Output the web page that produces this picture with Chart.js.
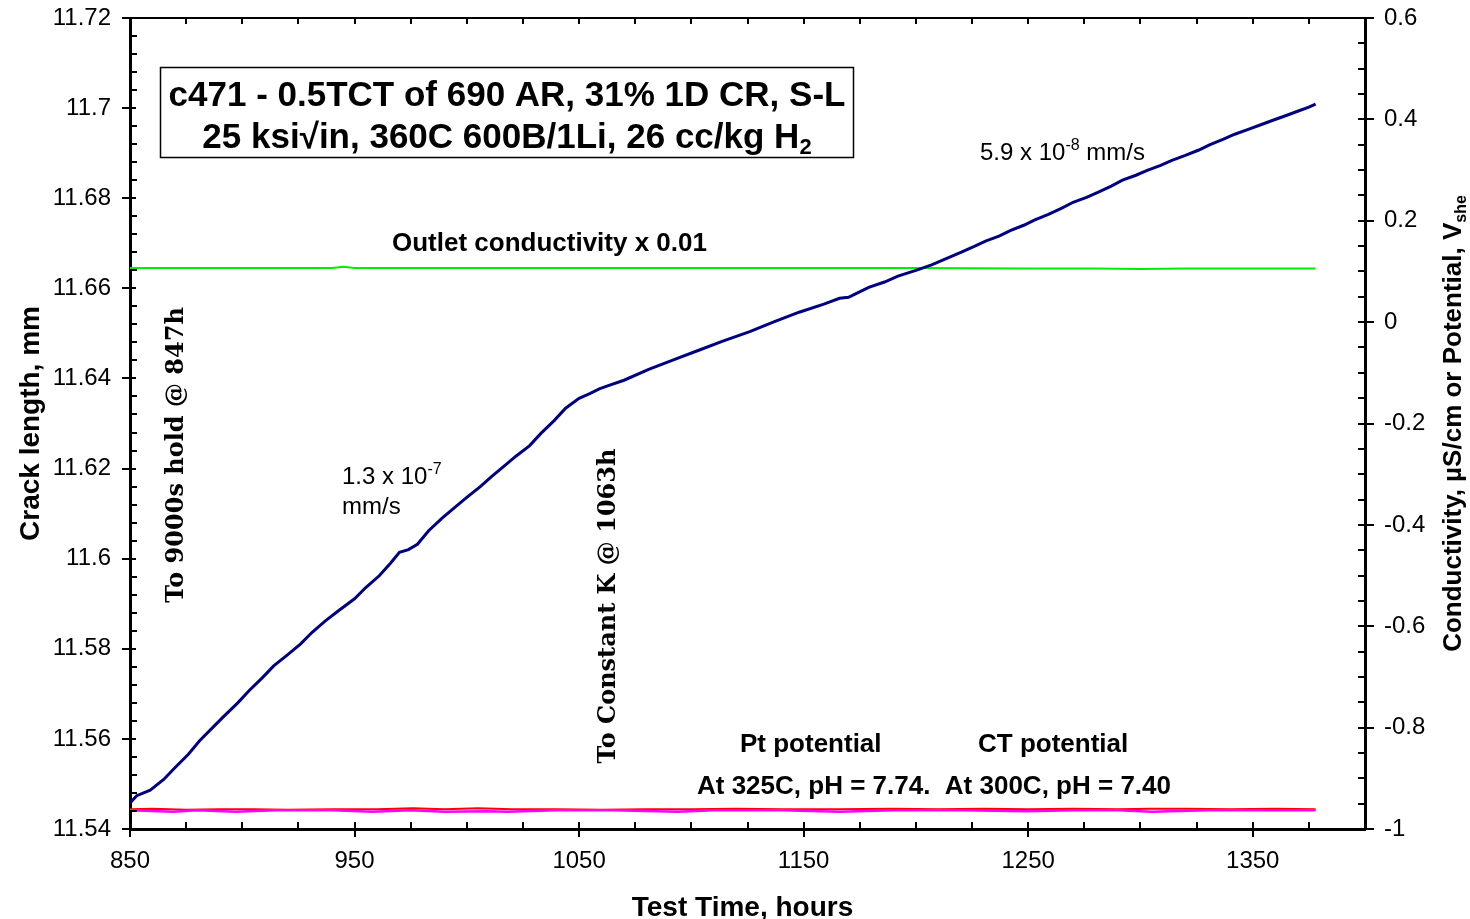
<!DOCTYPE html>
<html>
<head>
<meta charset="utf-8">
<script src="https://cdn.jsdelivr.net/npm/chart.js@4.4.1/dist/chart.umd.min.js"></script>
<style>
  html, body { margin: 0; padding: 0; background: #fff; }
  #wrap { width: 1470px; height: 919px; }
</style>
</head>
<body>
<div id="wrap"><canvas id="crackChart" width="1470" height="919"></canvas></div>
<script>
// crack length, mm (left axis)
const crackHours = [850, 853, 859, 865, 870, 876, 881, 887, 892, 898, 903, 909, 914, 920, 926, 931, 937, 943, 950, 955,
  961, 966, 970, 974, 978, 983, 989, 994, 1000, 1006, 1011, 1017, 1022, 1028, 1033, 1039, 1044, 1050, 1055, 1059,
  1063, 1070, 1081, 1092, 1103, 1114, 1126, 1137, 1148, 1159, 1166, 1170, 1174, 1179, 1186, 1192, 1200, 1207, 1214, 1220,
  1226, 1231, 1237, 1242, 1248, 1253, 1259, 1265, 1270, 1276, 1281, 1287, 1292, 1298, 1303, 1309, 1314, 1320, 1326, 1331,
  1337, 1342, 1348, 1353, 1359, 1364, 1370, 1375, 1378];
const crackLength = [11.5458, 11.5474, 11.5486, 11.5510, 11.5536, 11.5566, 11.5596, 11.5626, 11.5651, 11.5680,
  11.5707, 11.5736, 11.5762, 11.5786, 11.5811, 11.5836, 11.5862, 11.5885, 11.5911, 11.5936,
  11.5962, 11.5990, 11.6014, 11.6020, 11.6032, 11.6062, 11.6090, 11.6111, 11.6136, 11.6160,
  11.6182, 11.6207, 11.6228, 11.6251, 11.6278, 11.6307, 11.6334, 11.6356, 11.6367, 11.6377,
  11.6384, 11.6396, 11.6420, 11.6441, 11.6462, 11.6483, 11.6504, 11.6526, 11.6547, 11.6565,
  11.6578, 11.6580, 11.6590, 11.6602, 11.6614, 11.6627, 11.6640, 11.6652, 11.6667, 11.6680,
  11.6693, 11.6705, 11.6716, 11.6728, 11.6740, 11.6752, 11.6764, 11.6778, 11.6791, 11.6802,
  11.6813, 11.6827, 11.6840, 11.6851, 11.6862, 11.6873, 11.6884, 11.6895, 11.6907, 11.6919,
  11.6931, 11.6942, 11.6953, 11.6962, 11.6973, 11.6982, 11.6993, 11.7002, 11.7009];

// outlet conductivity x 0.01 (right axis)
const condHours = [850, 900, 940, 945, 950, 1000, 1050, 1100, 1150, 1200, 1250, 1280, 1300, 1320, 1350, 1378];
const condValues = [0.107, 0.107, 0.107, 0.109, 0.107, 0.107, 0.107, 0.107, 0.107, 0.107, 0.106, 0.106, 0.105, 0.106, 0.106, 0.106];

// Pt potential, V she (right axis)
const ptHours = [850, 860, 875, 890, 905, 920, 940, 960, 976, 990, 1005, 1020, 1040, 1060, 1080,
  1100, 1120, 1140, 1165, 1190, 1210, 1230, 1250, 1270, 1290, 1305, 1320, 1340, 1360, 1378];
const ptValues = [-0.961, -0.960, -0.962, -0.961, -0.961, -0.962, -0.961, -0.961, -0.959, -0.961, -0.959, -0.961, -0.961, -0.962, -0.961,
  -0.961, -0.960, -0.961, -0.961, -0.960, -0.961, -0.960, -0.961, -0.960, -0.961, -0.960, -0.960, -0.961, -0.960, -0.961];

// CT potential, V she (right axis)
const ctHours = [850, 869, 880, 897, 915, 940, 958, 975, 990, 1009, 1018, 1040, 1065, 1094, 1110,
  1140, 1166, 1190, 1220, 1249, 1270, 1290, 1305, 1330, 1350, 1378];
const ctValues = [-0.963, -0.966, -0.963, -0.966, -0.963, -0.963, -0.966, -0.963, -0.966, -0.965, -0.966, -0.963, -0.963, -0.966, -0.963,
  -0.963, -0.966, -0.963, -0.963, -0.965, -0.963, -0.963, -0.966, -0.963, -0.963, -0.963];

const xTicks = [850, 950, 1050, 1150, 1250, 1350];
const leftTicks = [11.54, 11.56, 11.58, 11.6, 11.62, 11.64, 11.66, 11.68, 11.7, 11.72];
const leftTickLabels = ['11.54', '11.56', '11.58', '11.6', '11.62', '11.64', '11.66', '11.68', '11.7', '11.72'];
const rightTicks = [-1, -0.8, -0.6, -0.4, -0.2, 0, 0.2, 0.4, 0.6];
const rightTickLabels = ['-1', '-0.8', '-0.6', '-0.4', '-0.2', '0', '0.2', '0.4', '0.6'];

const SANS = '"Liberation Sans", Arial, sans-serif';
const SERIF = '"DejaVu Serif", serif';

const toPoints = (xs, ys) => xs.map((x, i) => ({ x: x, y: ys[i] }));

// draws a run of text pieces (for sub/superscripts), aligned as a whole
function drawRuns(ctx, runs, x, y, align) {
  let total = 0;
  runs.forEach(r => { ctx.font = r.font; total += ctx.measureText(r.text).width; });
  let cx = align === 'center' ? x - total / 2 : x;
  ctx.textAlign = 'left';
  runs.forEach(r => {
    ctx.font = r.font;
    ctx.fillText(r.text, cx, y + (r.dy || 0));
    cx += ctx.measureText(r.text).width;
  });
}

const decorPlugin = {
  id: 'decor',
  afterDraw(chart) {
    const { ctx, chartArea: a, scales } = chart;
    const xs = scales.x, yl = scales.y, yr = scales.y2;
    ctx.save();
    ctx.strokeStyle = '#000';
    ctx.fillStyle = '#000';

    // top frame line
    ctx.lineWidth = 2;
    ctx.beginPath();
    ctx.moveTo(a.left, a.top); ctx.lineTo(a.right, a.top);
    ctx.stroke();

    // tick marks
    ctx.lineWidth = 2;
    ctx.beginPath();
    for (let h = 850; h < 1400; h += 25) {
      const px = Math.round(xs.getPixelForValue(h));
      if (xTicks.includes(h)) {
        ctx.moveTo(px, a.bottom - 7); ctx.lineTo(px, a.bottom + 8);
      } else {
        ctx.moveTo(px, a.bottom - 7); ctx.lineTo(px, a.bottom);
      }
      if (h > 850) { ctx.moveTo(px, a.top); ctx.lineTo(px, a.top + 6); }
    }
    for (let i = 0; i <= 45; i++) {
      const py = Math.round(yl.getPixelForValue(11.54 + i * 0.004));
      if (i % 5 === 0) { ctx.moveTo(a.left - 8, py); ctx.lineTo(a.left + 6, py); }
      else { ctx.moveTo(a.left, py); ctx.lineTo(a.left + 7, py); }
    }
    for (let i = 0; i <= 32; i++) {
      const py = Math.round(yr.getPixelForValue(-1 + i * 0.05));
      if (i % 4 === 0) { ctx.moveTo(a.right - 7, py); ctx.lineTo(a.right + 9, py); }
      else { ctx.moveTo(a.right - 7, py); ctx.lineTo(a.right, py); }
    }
    ctx.stroke();

    // axis titles
    ctx.textBaseline = 'alphabetic';
    ctx.font = 'bold 28px ' + SANS;
    ctx.textAlign = 'center';
    ctx.fillText('Test Time, hours', (a.left + a.right) / 2 - 5, 916);

    ctx.save();
    ctx.translate(39, (a.top + a.bottom) / 2);
    ctx.rotate(-Math.PI / 2);
    ctx.fillText('Crack length, mm', 0, 0);
    ctx.restore();

    ctx.save();
    ctx.translate(1461, (a.top + a.bottom) / 2);
    ctx.rotate(-Math.PI / 2);
    drawRuns(ctx, [
      { text: 'Conductivity, \u00b5S/cm or Potential, V', font: 'bold 26px ' + SANS },
      { text: 'she', font: 'bold 16px ' + SANS, dy: 5 }
    ], 0, 0, 'center');
    ctx.restore();

    // title box
    ctx.fillStyle = '#fff';
    ctx.fillRect(160, 67, 693, 90);
    ctx.lineWidth = 1.5;
    ctx.strokeRect(160.5, 67.5, 693, 90);
    ctx.fillStyle = '#000';
    ctx.font = 'bold 35px ' + SANS;
    ctx.textAlign = 'center';
    ctx.fillText('c471 - 0.5TCT of 690 AR, 31% 1D CR, S-L', 507, 106);
    drawRuns(ctx, [
      { text: '25 ksi\u221ain, 360C 600B/1Li, 26 cc/kg H', font: 'bold 35px ' + SANS },
      { text: '2', font: 'bold 22px ' + SANS, dy: 6 }
    ], 507, 148, 'center');

    // series notes
    ctx.font = 'bold 26px ' + SANS;
    ctx.textAlign = 'left';
    ctx.fillText('Outlet conductivity x 0.01', 392, 251);
    ctx.fillText('Pt potential', 740, 752);
    ctx.fillText('CT potential', 978, 752);
    ctx.fillText('At 325C, pH = 7.74.  At 300C, pH = 7.40', 697, 794);

    // rates
    drawRuns(ctx, [
      { text: '1.3 x 10', font: '24px ' + SANS },
      { text: '-7', font: '16px ' + SANS, dy: -10 }
    ], 342, 484, 'left');
    ctx.font = '24px ' + SANS;
    ctx.fillText('mm/s', 342, 514);
    drawRuns(ctx, [
      { text: '5.9 x 10', font: '24px ' + SANS },
      { text: '-8', font: '16px ' + SANS, dy: -10 },
      { text: ' mm/s', font: '24px ' + SANS }
    ], 980, 160, 'left');

    // event notes (rotated)
    ctx.font = 'bold 24px ' + SERIF;
    ctx.textAlign = 'center';
    ctx.textBaseline = 'middle';
    ctx.save();
    ctx.translate(xs.getPixelForValue(871), 455);
    ctx.rotate(-Math.PI / 2);
    ctx.fillText('To 9000s hold @ 847h', 0, 0);
    ctx.restore();
    ctx.save();
    ctx.translate(xs.getPixelForValue(1063), 606);
    ctx.rotate(-Math.PI / 2);
    ctx.fillText('To Constant K @ 1063h', 0, 0);
    ctx.restore();

    ctx.restore();
  }
};

const tickFont = { family: SANS, size: 24 };

// fixed axis sizes so the plot area sits where the reference has it
const fixVertical = w => s => { s.width = w; s.paddingTop = 0; s.paddingBottom = 0; };

new Chart(document.getElementById('crackChart'), {
  type: 'line',
  data: {
    datasets: [
      {
        label: 'Crack length',
        data: toPoints(crackHours, crackLength),
        yAxisID: 'y',
        borderColor: '#000080',
        borderWidth: 3,
        pointRadius: 0,
        tension: 0
      },
      {
        label: 'Outlet conductivity x 0.01',
        data: toPoints(condHours, condValues),
        yAxisID: 'y2',
        borderColor: '#00ee00',
        borderWidth: 2,
        pointRadius: 0
      },
      {
        label: 'CT potential',
        data: toPoints(ctHours, ctValues),
        yAxisID: 'y2',
        borderColor: '#ff00ff',
        borderWidth: 2.5,
        pointRadius: 0
      },
      {
        label: 'Pt potential',
        data: toPoints(ptHours, ptValues),
        yAxisID: 'y2',
        borderColor: '#ff0000',
        borderWidth: 2,
        pointRadius: 0
      }
    ]
  },
  options: {
    responsive: false,
    animation: false,
    devicePixelRatio: 1,
    layout: { padding: { top: 18, left: 0, right: 0, bottom: 0 } },
    plugins: {
      legend: { display: false },
      tooltip: { enabled: false }
    },
    scales: {
      x: {
        type: 'linear',
        position: 'bottom',
        min: 850,
        max: 1400,
        afterBuildTicks: s => { s.ticks = xTicks.map(v => ({ value: v })); },
        afterFit: s => { s.height = 90; s.paddingLeft = 0; s.paddingRight = 0; },
        ticks: {
          callback: v => String(v),
          font: tickFont,
          color: '#000',
          padding: 18,
          maxRotation: 0,
          autoSkip: false
        },
        grid: { drawOnChartArea: false, drawTicks: false },
        border: { color: '#000', width: 3 }
      },
      y: {
        type: 'linear',
        position: 'left',
        min: 11.54,
        max: 11.72,
        afterBuildTicks: s => { s.ticks = leftTicks.map(v => ({ value: v })); },
        afterFit: fixVertical(130),
        ticks: {
          callback: (v, i) => leftTickLabels[i],
          font: tickFont,
          color: '#000',
          padding: 19,
          autoSkip: false
        },
        grid: { drawOnChartArea: false, drawTicks: false },
        border: { color: '#000', width: 3 }
      },
      y2: {
        type: 'linear',
        position: 'right',
        min: -1,
        max: 0.6,
        afterBuildTicks: s => { s.ticks = rightTicks.map(v => ({ value: v })); },
        afterFit: fixVertical(105),
        ticks: {
          callback: (v, i) => rightTickLabels[i],
          font: tickFont,
          color: '#000',
          padding: 19,
          autoSkip: false
        },
        grid: { drawOnChartArea: false, drawTicks: false },
        border: { color: '#000', width: 3 }
      }
    }
  },
  plugins: [decorPlugin]
});
</script>
</body>
</html>
